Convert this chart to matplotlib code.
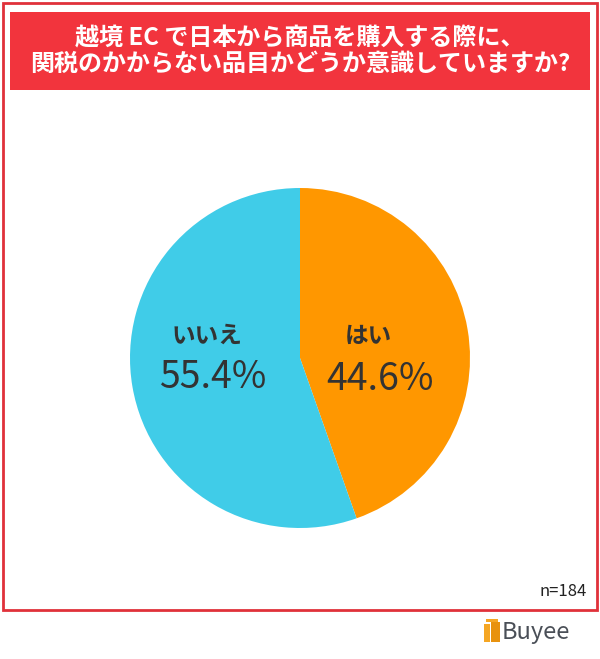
import matplotlib.pyplot as plt
from matplotlib.patches import Rectangle

plt.rcParams['font.family'] = ['Noto Sans CJK JP', 'DejaVu Sans']

categories = ["はい", "いいえ"]
shares = [44.6, 55.4]
colors = ["#FF9700", "#40CCE8"]
title = "越境 EC で日本から商品を購入する際に、\n関税のかからない品目かどうか意識していますか?"
n_label = "n=184"

W, H = 600, 659
fig = plt.figure(figsize=(W / 100, H / 100), dpi=100)

# background canvas in pixel coordinates
bg = fig.add_axes([0, 0, 1, 1])
bg.set_xlim(0, W)
bg.set_ylim(H, 0)
bg.axis("off")
bg.add_patch(Rectangle((3, 3), 594, 607, fill=False, edgecolor="#E0313A", linewidth=2))
bg.add_patch(Rectangle((10, 12), 580, 78, facecolor="#F2343D", edgecolor="none"))
bg.text(300, 51, title, ha="center", va="center", color="white",
        fontsize=17.3, fontweight="bold", linespacing=1.1)
bg.text(587, 591, n_label, ha="right", va="center", fontsize=12, color="#222222")

# logo
bg.add_patch(Rectangle((484, 624), 6, 18, facecolor="#F5A623", edgecolor="none"))
bg.add_patch(Rectangle((491, 622), 9, 20, facecolor="#E8920E", edgecolor="none"))
bg.add_patch(Rectangle((486, 619), 12, 3, facecolor="#F5A623", edgecolor="none"))
bg.text(502, 633, "Buyee", ha="left", va="center", fontsize=17, color="#4A4F57")

# pie
cx, cy, r = 300, 358, 170
ax = fig.add_axes([(cx - r) / W, (H - cy - r) / H, 2 * r / W, 2 * r / H])
ax.pie(shares, colors=colors, startangle=90, counterclock=False,
       wedgeprops=dict(linewidth=0))
ax.set_xlim(-1, 1)
ax.set_ylim(-1, 1)
ax.set_aspect("equal")


def put(px, py, s, size, weight="normal"):
    ax.text((px - cx) / r, (cy - py) / r, s, ha="center", va="center",
            fontsize=size, color="#333333", fontweight=weight)


put(368, 336, categories[0], 17, "bold")
put(380, 380, f"{shares[0]}%", 27)
put(207, 336, categories[1], 17, "bold")
put(213, 378, f"{shares[1]}%", 27)

fig.savefig("out.png", dpi=100)
